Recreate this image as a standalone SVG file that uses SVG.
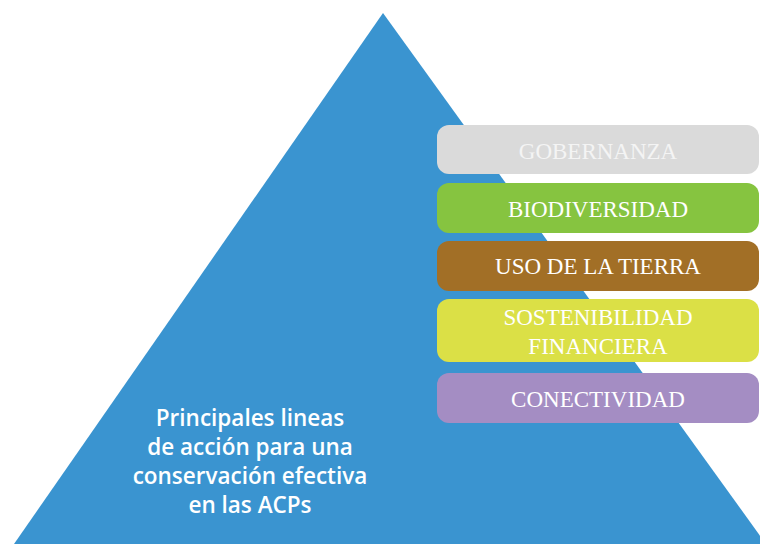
<svg xmlns="http://www.w3.org/2000/svg" width="760" height="544" viewBox="0 0 760 544">
<style>
.box{stroke:none}
.lbl{font-family:"Liberation Serif","Times New Roman",serif;font-size:23px;fill:#ffffff;text-anchor:middle}
.main{font-family:"Open Sans","Noto Sans",sans-serif;font-size:22.5px;font-weight:600;fill:#ffffff;text-anchor:middle}
</style>
<rect width="760" height="544" fill="#ffffff"/>
<g id="pyramid">
<polygon points="383,13 14,544 766,544" fill="#3a94d0"/>
<text class="main" x="250" y="426">Principales lineas</text>
<text class="main" x="250" y="455">de acción para una</text>
<text class="main" x="250" y="484">conservación efectiva</text>
<text class="main" x="250" y="513">en las ACPs</text>
</g>
<g id="gobernanza">
<rect class="box" x="437" y="125" width="322" height="49" rx="12" fill="#dadada"/>
<text class="lbl" x="598" y="159" style="fill:#f4f4f4">GOBERNANZA</text>
</g>
<g id="biodiversidad">
<rect class="box" x="437" y="183" width="322" height="50" rx="12" fill="#86c440"/>
<text class="lbl" x="598" y="217">BIODIVERSIDAD</text>
</g>
<g id="uso">
<rect class="box" x="437" y="241" width="322" height="50" rx="12" fill="#a26f26"/>
<text class="lbl" x="598" y="274">USO DE LA TIERRA</text>
</g>
<g id="sostenibilidad">
<rect class="box" x="437" y="299" width="322" height="63" rx="12" fill="#dbe046"/>
<text class="lbl" x="598" y="325">SOSTENIBILIDAD</text>
<text class="lbl" x="598" y="354">FINANCIERA</text>
</g>
<g id="conectividad">
<rect class="box" x="437" y="373" width="322" height="50" rx="12" fill="#a48dc3"/>
<text class="lbl" x="598" y="407">CONECTIVIDAD</text>
</g>
<g id="connectors"></g>
</svg>
